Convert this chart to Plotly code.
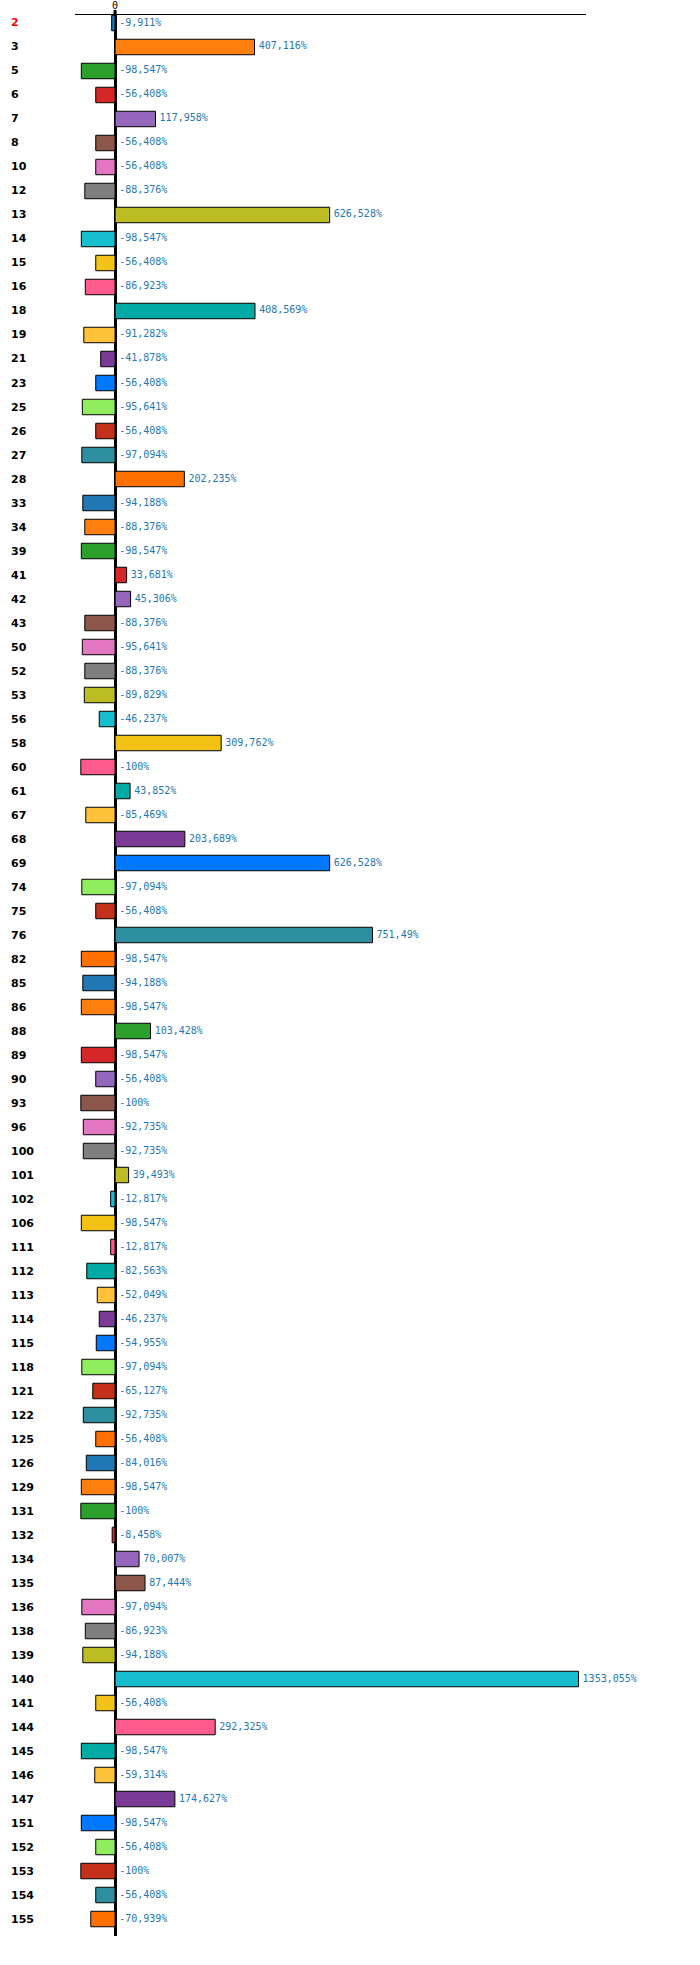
import plotly.graph_objects as go

categories = ["2","3","5","6","7","8","10","12","13","14","15","16","18","19","21","23","25","26","27","28",
              "33","34","39","41","42","43","50","52","53","56","58","60","61","67","68","69","74","75","76","82",
              "85","86","88","89","90","93","96","100","101","102","106","111","112","113","114","115","118","121","122","125",
              "126","129","131","132","134","135","136","138","139","140","141","144","145","146","147","151","152","153","154","155"]

values = [-9.911, 407.116, -98.547, -56.408, 117.958, -56.408, -56.408, -88.376, 626.528, -98.547,
          -56.408, -86.923, 408.569, -91.282, -41.878, -56.408, -95.641, -56.408, -97.094, 202.235,
          -94.188, -88.376, -98.547, 33.681, 45.306, -88.376, -95.641, -88.376, -89.829, -46.237,
          309.762, -100, 43.852, -85.469, 203.689, 626.528, -97.094, -56.408, 751.49, -98.547,
          -94.188, -98.547, 103.428, -98.547, -56.408, -100, -92.735, -92.735, 39.493, -12.817,
          -98.547, -12.817, -82.563, -52.049, -46.237, -54.955, -97.094, -65.127, -92.735, -56.408,
          -84.016, -98.547, -100, -8.458, 70.007, 87.444, -97.094, -86.923, -94.188, 1353.055,
          -56.408, 292.325, -98.547, -59.314, 174.627, -98.547, -56.408, -100, -56.408, -70.939]

tick_values = [0]
tick_labels = ["0"]

palette = ["#1f77b4", "#ff7f0e", "#2ca02c", "#d62728", "#9467bd", "#8c564b", "#e377c2", "#7f7f7f",
           "#bcbd22", "#17becf", "#f2c314", "#ff5a8c", "#00aaa5", "#ffc23a", "#7b3a96", "#0078ff",
           "#90ee5e", "#c4301a", "#2e8fa0", "#ff7000"]
colors = [palette[i % len(palette)] for i in range(len(categories))]


def fmt(v):
    s = ("%.3f" % v).rstrip("0").rstrip(".")
    return s.replace(".", ",") + "%"


labels = [fmt(v) for v in values]
text_x = [max(v, 0) for v in values]

fig = go.Figure()
fig.add_trace(go.Bar(
    x=values, y=categories, orientation="h",
    marker=dict(color=colors, line=dict(color="black", width=1)),
    width=0.645, hoverinfo="x+y", showlegend=False,
))
fig.add_trace(go.Scatter(
    x=text_x, y=categories, mode="markers+text", text=labels, textposition="middle right",
    marker=dict(size=5, color="rgba(0,0,0,0)"),
    textfont=dict(family="DejaVu Sans Mono", size=10, color="#1f77b4"),
    hoverinfo="skip", showlegend=False, cliponaxis=False,
))

for i, c in enumerate(categories):
    fig.add_annotation(
        x=0, xref="paper", xshift=-66, y=i, yref="y", text="<b>%s</b>" % c,
        showarrow=False, xanchor="left", yanchor="middle",
        font=dict(family="DejaVu Sans", size=11, color="red" if i == 0 else "black"),
    )

# short extension of the zero line above the top axis line
fig.add_shape(type="line", xref="x", x0=0, x1=0, yref="paper", ysizemode="pixel",
              yanchor=1, y0=0, y1=5, line=dict(color="black", width=3))

n = len(categories)
fig.update_layout(
    width=700, height=1965,
    margin=dict(l=75, r=114, t=15, b=29),
    plot_bgcolor="white", paper_bgcolor="white",
    xaxis=dict(range=[-117, 1375], side="top", showgrid=False, zeroline=True,
               zerolinecolor="black", zerolinewidth=3, showline=True, linecolor="black",
               linewidth=1, tickvals=tick_values, ticktext=tick_labels, ticks="", automargin=False,
               tickfont=dict(family="DejaVu Sans Mono", size=10, color="black"), ticklabelstandoff=1),
    yaxis=dict(type="category", categoryorder="array", categoryarray=categories,
               range=[n - 1 + 0.708, -0.333], showticklabels=False, showgrid=False,
               zeroline=False, showline=False, ticks="", automargin=False),
    font=dict(family="DejaVu Sans"),
)

fig.write_html("out.html", config={"displayModeBar": False},
               post_script="document.body.style.margin='0';")
